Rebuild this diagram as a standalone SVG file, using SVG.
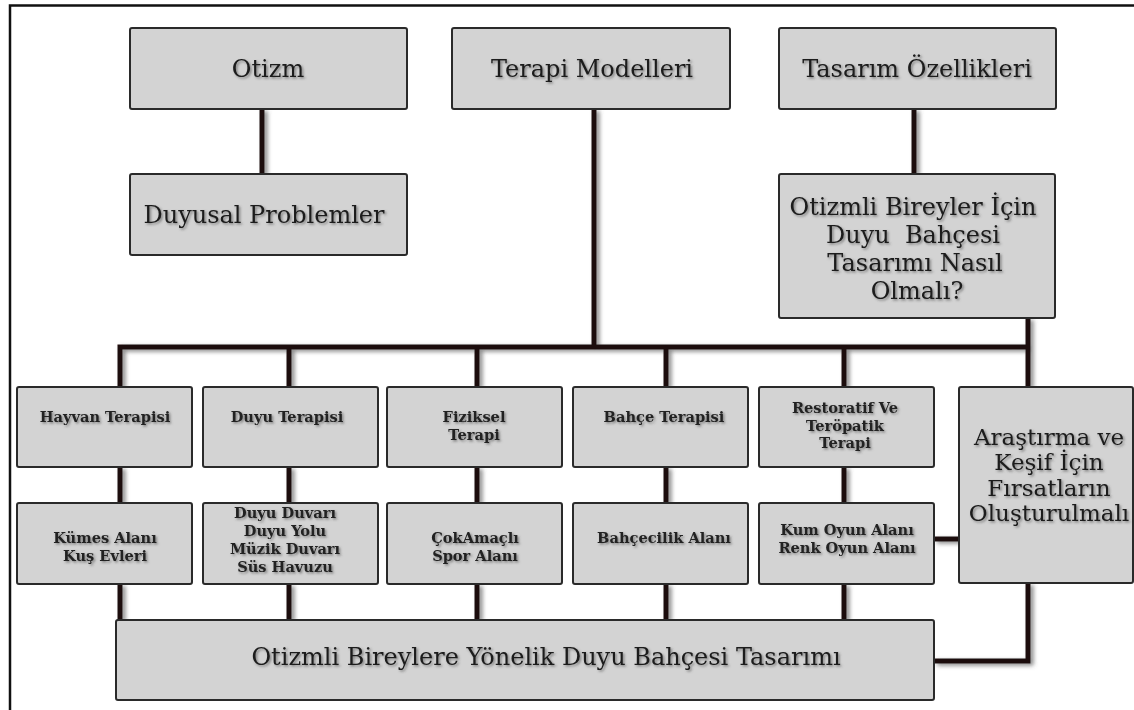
<svg xmlns="http://www.w3.org/2000/svg" width="1134" height="710" viewBox="0 0 1134 710">
<defs>
<filter id="sh" x="-20%" y="-20%" width="160%" height="160%">
<feDropShadow dx="3" dy="2" stdDeviation="2" flood-color="#555" flood-opacity="0.7"/>
</filter>
<filter id="tsh" x="-10%" y="-30%" width="130%" height="180%">
<feDropShadow dx="1.5" dy="1.5" stdDeviation="1.2" flood-color="#444" flood-opacity="0.6"/>
</filter>
<style>
.box{fill:#d3d3d3;stroke:#2a2a2a;stroke-width:2}
.big{font-family:"DejaVu Serif","Liberation Serif",serif;font-size:24px;fill:#1a1a1a;text-anchor:middle;filter:url(#tsh)}
.sm{font-family:"DejaVu Serif","Liberation Serif",serif;font-size:14.6px;font-weight:bold;fill:#222;text-anchor:middle;filter:url(#tsh)}
.con{fill:none;stroke:#1e0c0c;stroke-width:5;stroke-linejoin:miter}
</style>
</defs>
<rect width="1134" height="710" fill="#ffffff"/>
<path d="M10 710 V5.5 H1134" fill="none" stroke="#111" stroke-width="2.5"/>
<g id="connectors" filter="url(#sh)">
<path class="con" d="M262 109 V174"/>
<path class="con" d="M594 109 V347"/>
<path class="con" d="M914 109 V174"/>
<path class="con" d="M1028 318 V387"/>
<path class="con" d="M120 387 V347 H1028"/>
<path class="con" d="M289 347 V387 M477 347 V387 M666 347 V387 M844 347 V387"/>
<path class="con" d="M120 467 V503 M289 467 V503 M477 467 V503 M666 467 V503 M844 467 V503"/>
<path class="con" d="M120 584 V620 M289 584 V620 M477 584 V620 M666 584 V620 M844 584 V620"/>
<path class="con" d="M934 539 H959"/>
<path class="con" d="M1028 583 V661 H934"/>
</g>
<g id="otizm"><rect class="box" x="130" y="28" width="277" height="81" rx="2"/><text class="big" x="268" y="77">Otizm</text></g>
<g id="duyusal"><rect class="box" x="130" y="174" width="277" height="81" rx="2"/><text class="big" x="264" y="223">Duyusal Problemler</text></g>
<g id="terapi-modelleri"><rect class="box" x="452" y="28" width="278" height="81" rx="2"/><text class="big" x="592" y="77">Terapi Modelleri</text></g>
<g id="tasarim-ozellikleri"><rect class="box" x="779" y="28" width="277" height="81" rx="2"/><text class="big" x="917" y="77">Tasarım Özellikleri</text></g>
<g id="nasil-olmali"><rect class="box" x="779" y="174" width="276" height="144" rx="2"/>
<text class="big" x="913" y="215">Otizmli Bireyler İçin</text>
<text class="big" x="913" y="243" xml:space="preserve">Duyu  Bahçesi</text>
<text class="big" x="915" y="271">Tasarımı Nasıl</text>
<text class="big" x="917" y="299">Olmalı?</text></g>
<g id="hayvan"><rect class="box" x="17" y="387" width="175" height="80" rx="2"/><text class="sm" x="105" y="422">Hayvan Terapisi</text></g>
<g id="duyu-terapisi"><rect class="box" x="203" y="387" width="175" height="80" rx="2"/><text class="sm" x="287" y="422">Duyu Terapisi</text></g>
<g id="fiziksel"><rect class="box" x="387" y="387" width="175" height="80" rx="2"/><text class="sm" x="474" y="422">Fiziksel</text><text class="sm" x="474" y="440">Terapi</text></g>
<g id="bahce-terapisi"><rect class="box" x="573" y="387" width="175" height="80" rx="2"/><text class="sm" x="664" y="422">Bahçe Terapisi</text></g>
<g id="restoratif"><rect class="box" x="759" y="387" width="175" height="80" rx="2"/><text class="sm" x="845" y="413">Restoratif Ve</text><text class="sm" x="845" y="431">Teröpatik</text><text class="sm" x="845" y="448">Terapi</text></g>
<g id="arastirma"><rect class="box" x="959" y="387" width="174" height="196" rx="2"/>
<text class="big" x="1049" y="445" style="font-size:23px">Araştırma ve</text>
<text class="big" x="1049" y="470" style="font-size:23px">Keşif İçin</text>
<text class="big" x="1049" y="496" style="font-size:23px">Fırsatların</text>
<text class="big" x="1049" y="521" style="font-size:23px">Oluşturulmalı</text></g>
<g id="kumes"><rect class="box" x="17" y="503" width="175" height="81" rx="2"/><text class="sm" x="105" y="543">Kümes Alanı</text><text class="sm" x="105" y="561">Kuş Evleri</text></g>
<g id="duyu-duvari"><rect class="box" x="203" y="503" width="175" height="81" rx="2"/><text class="sm" x="285" y="518">Duyu Duvarı</text><text class="sm" x="285" y="536">Duyu Yolu</text><text class="sm" x="285" y="554">Müzik Duvarı</text><text class="sm" x="285" y="572">Süs Havuzu</text></g>
<g id="cokamacli"><rect class="box" x="387" y="503" width="175" height="81" rx="2"/><text class="sm" x="475" y="543">ÇokAmaçlı</text><text class="sm" x="475" y="561">Spor Alanı</text></g>
<g id="bahcecilik"><rect class="box" x="573" y="503" width="175" height="81" rx="2"/><text class="sm" x="664" y="543">Bahçecilik Alanı</text></g>
<g id="kum-renk"><rect class="box" x="759" y="503" width="175" height="81" rx="2"/><text class="sm" x="847" y="535">Kum Oyun Alanı</text><text class="sm" x="847" y="553">Renk Oyun Alanı</text></g>
<g id="duyu-bahcesi-tasarimi"><rect class="box" x="116" y="620" width="818" height="80" rx="2"/><text class="big" x="546" y="665">Otizmli Bireylere Yönelik Duyu Bahçesi Tasarımı</text></g>
</svg>
